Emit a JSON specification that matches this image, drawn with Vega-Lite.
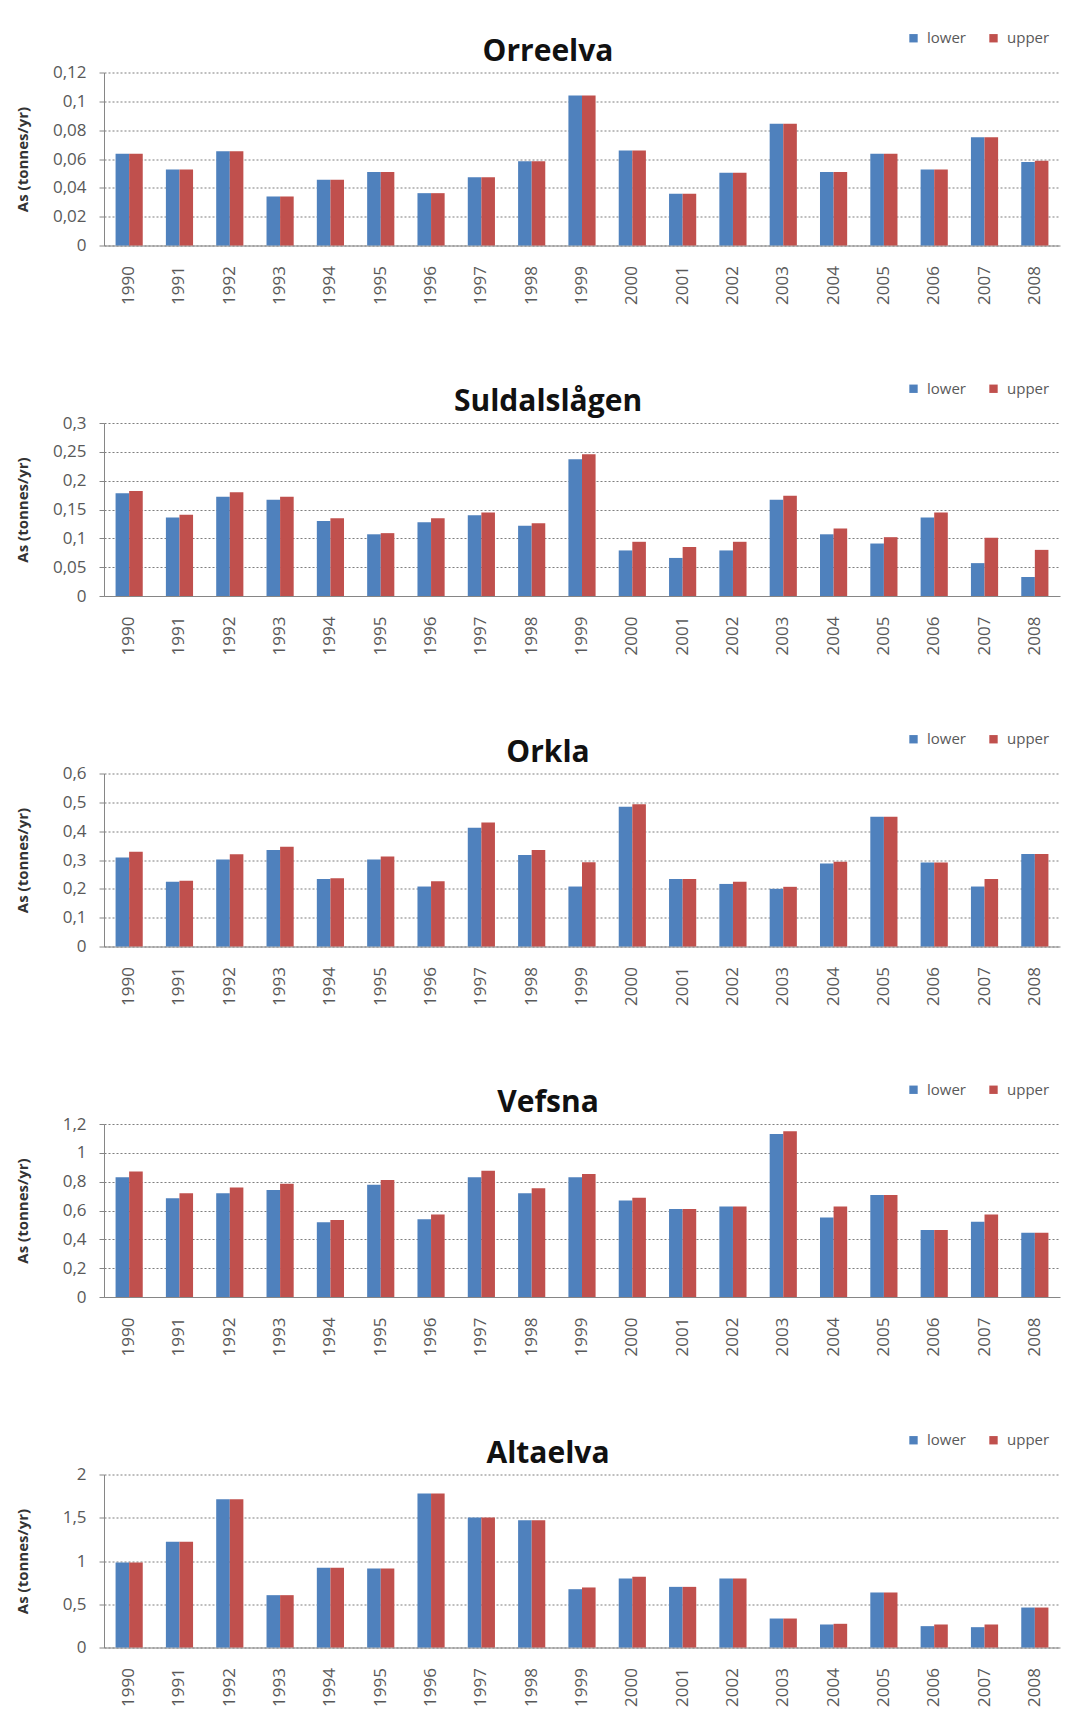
{
  "$schema": "https://vega.github.io/schema/vega-lite/v6.json",
  "padding": {"left": 14, "top": 30.5, "right": 5, "bottom": 5},
  "background": "white",
  "spacing": 76.5,
  "config": {
    "locale": {"number": {"decimal": ",", "thousands": " ", "grouping": [3], "currency": ["", " kr"]}},
    "font": "Open Sans",
    "view": {"stroke": null},
    "title": {"font": "Open Sans", "fontSize": 30, "fontWeight": "bold", "color": "#111111", "anchor": "middle", "dx": -34, "dy": 48, "offset": 12},
    "axisY": {"labelFont": "Open Sans", "labelFontSize": 17, "labelColor": "#595959", "domainColor": "#868686", "tickColor": "#868686", "tickSize": 5, "labelPadding": 13, "gridColor": "#7f7f7f", "gridDash": [2, 2], "gridWidth": 1.2, "titleFont": "Open Sans", "titleFontSize": 15, "titleFontWeight": "bold", "titleColor": "#333333", "titleX": -74, "format": ".2~f"},
    "axisX": {"labelFont": "Open Sans", "labelFontSize": 17, "labelColor": "#595959", "domainColor": "#868686", "ticks": false, "labelAngle": 270, "labelPadding": 20, "grid": false, "title": null},
    "legend": {"orient": "none", "direction": "horizontal", "legendX": 802, "legendY": -42, "title": null, "symbolType": "square", "symbolSize": 70, "labelFont": "Open Sans", "labelFontSize": 15, "labelColor": "#595959", "columnPadding": 20, "labelOffset": 6}
  },
  "resolve": {"scale": {"y": "independent", "color": "independent"}, "legend": {"color": "independent"}},
  "data": {"values": [
    {"river": "Orreelva", "year": "1990", "lower": 0.0636, "upper": 0.0636},
    {"river": "Orreelva", "year": "1991", "lower": 0.0527, "upper": 0.0527},
    {"river": "Orreelva", "year": "1992", "lower": 0.0654, "upper": 0.0654},
    {"river": "Orreelva", "year": "1993", "lower": 0.034, "upper": 0.034},
    {"river": "Orreelva", "year": "1994", "lower": 0.0456, "upper": 0.0456},
    {"river": "Orreelva", "year": "1995", "lower": 0.0509, "upper": 0.0509},
    {"river": "Orreelva", "year": "1996", "lower": 0.0363, "upper": 0.0363},
    {"river": "Orreelva", "year": "1997", "lower": 0.0474, "upper": 0.0474},
    {"river": "Orreelva", "year": "1998", "lower": 0.0585, "upper": 0.0585},
    {"river": "Orreelva", "year": "1999", "lower": 0.104, "upper": 0.104},
    {"river": "Orreelva", "year": "2000", "lower": 0.0659, "upper": 0.0659},
    {"river": "Orreelva", "year": "2001", "lower": 0.0359, "upper": 0.0359},
    {"river": "Orreelva", "year": "2002", "lower": 0.0504, "upper": 0.0504},
    {"river": "Orreelva", "year": "2003", "lower": 0.0844, "upper": 0.0844},
    {"river": "Orreelva", "year": "2004", "lower": 0.0509, "upper": 0.0509},
    {"river": "Orreelva", "year": "2005", "lower": 0.0636, "upper": 0.0636},
    {"river": "Orreelva", "year": "2006", "lower": 0.0527, "upper": 0.0527},
    {"river": "Orreelva", "year": "2007", "lower": 0.0751, "upper": 0.0751},
    {"river": "Orreelva", "year": "2008", "lower": 0.058, "upper": 0.0588},
    {"river": "Suldalslågen", "year": "1990", "lower": 0.178, "upper": 0.182},
    {"river": "Suldalslågen", "year": "1991", "lower": 0.136, "upper": 0.141},
    {"river": "Suldalslågen", "year": "1992", "lower": 0.172, "upper": 0.18},
    {"river": "Suldalslågen", "year": "1993", "lower": 0.167, "upper": 0.172},
    {"river": "Suldalslågen", "year": "1994", "lower": 0.13, "upper": 0.135},
    {"river": "Suldalslågen", "year": "1995", "lower": 0.107, "upper": 0.109},
    {"river": "Suldalslågen", "year": "1996", "lower": 0.128, "upper": 0.135},
    {"river": "Suldalslågen", "year": "1997", "lower": 0.14, "upper": 0.145},
    {"river": "Suldalslågen", "year": "1998", "lower": 0.122, "upper": 0.126},
    {"river": "Suldalslågen", "year": "1999", "lower": 0.237, "upper": 0.246},
    {"river": "Suldalslågen", "year": "2000", "lower": 0.079, "upper": 0.094},
    {"river": "Suldalslågen", "year": "2001", "lower": 0.066, "upper": 0.085},
    {"river": "Suldalslågen", "year": "2002", "lower": 0.079, "upper": 0.094},
    {"river": "Suldalslågen", "year": "2003", "lower": 0.167, "upper": 0.174},
    {"river": "Suldalslågen", "year": "2004", "lower": 0.107, "upper": 0.117},
    {"river": "Suldalslågen", "year": "2005", "lower": 0.091, "upper": 0.102},
    {"river": "Suldalslågen", "year": "2006", "lower": 0.136, "upper": 0.145},
    {"river": "Suldalslågen", "year": "2007", "lower": 0.057, "upper": 0.101},
    {"river": "Suldalslågen", "year": "2008", "lower": 0.033, "upper": 0.08},
    {"river": "Orkla", "year": "1990", "lower": 0.309, "upper": 0.329},
    {"river": "Orkla", "year": "1991", "lower": 0.225, "upper": 0.228},
    {"river": "Orkla", "year": "1992", "lower": 0.302, "upper": 0.32},
    {"river": "Orkla", "year": "1993", "lower": 0.335, "upper": 0.346},
    {"river": "Orkla", "year": "1994", "lower": 0.234, "upper": 0.237},
    {"river": "Orkla", "year": "1995", "lower": 0.302, "upper": 0.312},
    {"river": "Orkla", "year": "1996", "lower": 0.208, "upper": 0.226},
    {"river": "Orkla", "year": "1997", "lower": 0.412, "upper": 0.43},
    {"river": "Orkla", "year": "1998", "lower": 0.317, "upper": 0.335},
    {"river": "Orkla", "year": "1999", "lower": 0.208, "upper": 0.292},
    {"river": "Orkla", "year": "2000", "lower": 0.485, "upper": 0.493},
    {"river": "Orkla", "year": "2001", "lower": 0.234, "upper": 0.234},
    {"river": "Orkla", "year": "2002", "lower": 0.217, "upper": 0.225},
    {"river": "Orkla", "year": "2003", "lower": 0.2, "upper": 0.207},
    {"river": "Orkla", "year": "2004", "lower": 0.288, "upper": 0.294},
    {"river": "Orkla", "year": "2005", "lower": 0.45, "upper": 0.45},
    {"river": "Orkla", "year": "2006", "lower": 0.291, "upper": 0.291},
    {"river": "Orkla", "year": "2007", "lower": 0.208, "upper": 0.234},
    {"river": "Orkla", "year": "2008", "lower": 0.321, "upper": 0.321},
    {"river": "Vefsna", "year": "1990", "lower": 0.831, "upper": 0.87},
    {"river": "Vefsna", "year": "1991", "lower": 0.685, "upper": 0.72},
    {"river": "Vefsna", "year": "1992", "lower": 0.72, "upper": 0.759},
    {"river": "Vefsna", "year": "1993", "lower": 0.743, "upper": 0.785},
    {"river": "Vefsna", "year": "1994", "lower": 0.518, "upper": 0.534},
    {"river": "Vefsna", "year": "1995", "lower": 0.778, "upper": 0.812},
    {"river": "Vefsna", "year": "1996", "lower": 0.539, "upper": 0.573},
    {"river": "Vefsna", "year": "1997", "lower": 0.831, "upper": 0.875},
    {"river": "Vefsna", "year": "1998", "lower": 0.72, "upper": 0.754},
    {"river": "Vefsna", "year": "1999", "lower": 0.831, "upper": 0.854},
    {"river": "Vefsna", "year": "2000", "lower": 0.669, "upper": 0.689},
    {"river": "Vefsna", "year": "2001", "lower": 0.61, "upper": 0.61},
    {"river": "Vefsna", "year": "2002", "lower": 0.627, "upper": 0.627},
    {"river": "Vefsna", "year": "2003", "lower": 1.13, "upper": 1.149},
    {"river": "Vefsna", "year": "2004", "lower": 0.552, "upper": 0.627},
    {"river": "Vefsna", "year": "2005", "lower": 0.708, "upper": 0.708},
    {"river": "Vefsna", "year": "2006", "lower": 0.464, "upper": 0.464},
    {"river": "Vefsna", "year": "2007", "lower": 0.522, "upper": 0.573},
    {"river": "Vefsna", "year": "2008", "lower": 0.446, "upper": 0.446},
    {"river": "Altaelva", "year": "1990", "lower": 0.983, "upper": 0.983},
    {"river": "Altaelva", "year": "1991", "lower": 1.222, "upper": 1.222},
    {"river": "Altaelva", "year": "1992", "lower": 1.715, "upper": 1.715},
    {"river": "Altaelva", "year": "1993", "lower": 0.605, "upper": 0.605},
    {"river": "Altaelva", "year": "1994", "lower": 0.921, "upper": 0.921},
    {"river": "Altaelva", "year": "1995", "lower": 0.913, "upper": 0.913},
    {"river": "Altaelva", "year": "1996", "lower": 1.78, "upper": 1.78},
    {"river": "Altaelva", "year": "1997", "lower": 1.503, "upper": 1.503},
    {"river": "Altaelva", "year": "1998", "lower": 1.472, "upper": 1.472},
    {"river": "Altaelva", "year": "1999", "lower": 0.674, "upper": 0.694},
    {"river": "Altaelva", "year": "2000", "lower": 0.798, "upper": 0.817},
    {"river": "Altaelva", "year": "2001", "lower": 0.701, "upper": 0.701},
    {"river": "Altaelva", "year": "2002", "lower": 0.798, "upper": 0.798},
    {"river": "Altaelva", "year": "2003", "lower": 0.335, "upper": 0.335},
    {"river": "Altaelva", "year": "2004", "lower": 0.266, "upper": 0.274},
    {"river": "Altaelva", "year": "2005", "lower": 0.636, "upper": 0.636},
    {"river": "Altaelva", "year": "2006", "lower": 0.247, "upper": 0.266},
    {"river": "Altaelva", "year": "2007", "lower": 0.235, "upper": 0.266},
    {"river": "Altaelva", "year": "2008", "lower": 0.462, "upper": 0.462}
  ]},
  "transform": [{"fold": ["lower", "upper"], "as": ["bound", "value"]}],
  "vconcat": [
    {
      "title": "Orreelva", "width": 956, "height": 173,
      "transform": [{"filter": "datum.river === 'Orreelva'"}],
      "mark": {"type": "bar"},
      "encoding": {
        "x": {"field": "year", "type": "nominal", "sort": "ascending", "scale": {"paddingInner": 0.46, "paddingOuter": 0.23}},
        "xOffset": {"field": "bound", "type": "nominal", "sort": ["lower", "upper"]},
        "y": {"field": "value", "type": "quantitative", "scale": {"domain": [0, 0.12]}, "axis": {"values": [0, 0.02, 0.04, 0.06, 0.08, 0.1, 0.12], "title": "As (tonnes/yr)"}},
        "color": {"field": "bound", "type": "nominal", "scale": {"domain": ["lower", "upper"], "range": ["#4F81BD", "#C0504D"]}}
      }
    },
    {
      "title": "Suldalslågen", "width": 956, "height": 173,
      "transform": [{"filter": "datum.river === 'Suldalslågen'"}],
      "mark": {"type": "bar"},
      "encoding": {
        "x": {"field": "year", "type": "nominal", "sort": "ascending", "scale": {"paddingInner": 0.46, "paddingOuter": 0.23}},
        "xOffset": {"field": "bound", "type": "nominal", "sort": ["lower", "upper"]},
        "y": {"field": "value", "type": "quantitative", "scale": {"domain": [0, 0.3]}, "axis": {"values": [0, 0.05, 0.1, 0.15, 0.2, 0.25, 0.3], "title": "As (tonnes/yr)"}},
        "color": {"field": "bound", "type": "nominal", "scale": {"domain": ["lower", "upper"], "range": ["#4F81BD", "#C0504D"]}}
      }
    },
    {
      "title": "Orkla", "width": 956, "height": 173,
      "transform": [{"filter": "datum.river === 'Orkla'"}],
      "mark": {"type": "bar"},
      "encoding": {
        "x": {"field": "year", "type": "nominal", "sort": "ascending", "scale": {"paddingInner": 0.46, "paddingOuter": 0.23}},
        "xOffset": {"field": "bound", "type": "nominal", "sort": ["lower", "upper"]},
        "y": {"field": "value", "type": "quantitative", "scale": {"domain": [0, 0.6]}, "axis": {"values": [0, 0.1, 0.2, 0.3, 0.4, 0.5, 0.6], "title": "As (tonnes/yr)"}},
        "color": {"field": "bound", "type": "nominal", "scale": {"domain": ["lower", "upper"], "range": ["#4F81BD", "#C0504D"]}}
      }
    },
    {
      "title": "Vefsna", "width": 956, "height": 173,
      "transform": [{"filter": "datum.river === 'Vefsna'"}],
      "mark": {"type": "bar"},
      "encoding": {
        "x": {"field": "year", "type": "nominal", "sort": "ascending", "scale": {"paddingInner": 0.46, "paddingOuter": 0.23}},
        "xOffset": {"field": "bound", "type": "nominal", "sort": ["lower", "upper"]},
        "y": {"field": "value", "type": "quantitative", "scale": {"domain": [0, 1.2]}, "axis": {"values": [0, 0.2, 0.4, 0.6, 0.8, 1, 1.2], "title": "As (tonnes/yr)"}},
        "color": {"field": "bound", "type": "nominal", "scale": {"domain": ["lower", "upper"], "range": ["#4F81BD", "#C0504D"]}}
      }
    },
    {
      "title": "Altaelva", "width": 956, "height": 173,
      "transform": [{"filter": "datum.river === 'Altaelva'"}],
      "mark": {"type": "bar"},
      "encoding": {
        "x": {"field": "year", "type": "nominal", "sort": "ascending", "scale": {"paddingInner": 0.46, "paddingOuter": 0.23}},
        "xOffset": {"field": "bound", "type": "nominal", "sort": ["lower", "upper"]},
        "y": {"field": "value", "type": "quantitative", "scale": {"domain": [0, 2]}, "axis": {"values": [0, 0.5, 1, 1.5, 2], "title": "As (tonnes/yr)"}},
        "color": {"field": "bound", "type": "nominal", "scale": {"domain": ["lower", "upper"], "range": ["#4F81BD", "#C0504D"]}}
      }
    }
  ]
}
